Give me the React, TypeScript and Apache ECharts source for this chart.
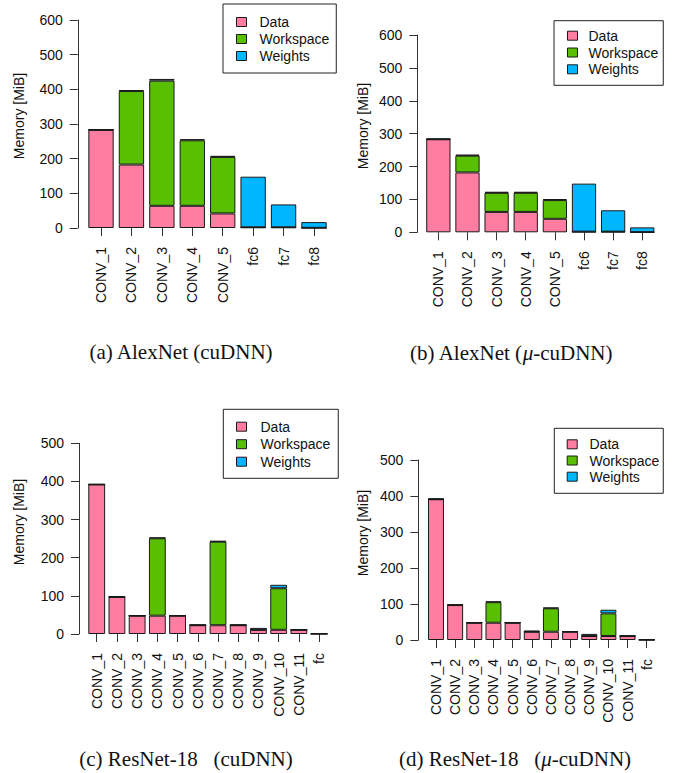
import React, { useEffect, useRef } from "react";
import * as echarts from "echarts";

// ---------- data ----------
const alexCategories = ["CONV_1", "CONV_2", "CONV_3", "CONV_4", "CONV_5", "fc6", "fc7", "fc8"];
const resCategories = ["CONV_1", "CONV_2", "CONV_3", "CONV_4", "CONV_5", "CONV_6", "CONV_7", "CONV_8", "CONV_9", "CONV_10", "CONV_11", "fc"];

// (a) AlexNet (cuDNN)
const alexCudnnData = [283, 183, 64, 64, 42, 2, 2, 0.5];
const alexCudnnWorkspace = [0, 212, 361, 189, 163, 0, 0, 0];
const alexCudnnWeights = [1.5, 3, 5, 3, 3, 146, 66, 16.5];

// (b) AlexNet (mu-cuDNN)
const alexMuData = [283, 182, 62, 62, 41, 2, 2, 0.5];
const alexMuWorkspace = [0, 51, 58, 58, 57, 0, 0, 0];
const alexMuWeights = [1.5, 3, 3, 3, 3, 146, 65, 14.5];

// (c) ResNet-18 (cuDNN)
const resCudnnData = [392, 97, 48, 48, 48, 23, 23, 23, 11, 11, 11, 0.5];
const resCudnnWorkspace = [0, 0, 0, 203, 0, 0, 219, 0, 0, 109, 0, 0];
const resCudnnWeights = [1, 2, 0.5, 2, 0.5, 2, 2, 2, 5, 9, 1, 1.5];

// (d) ResNet-18 (mu-cuDNN)
const resMuData = [391, 97, 48, 48, 48, 23, 23, 23, 11, 11, 11, 0.5];
const resMuWorkspace = [0, 0, 0, 57, 0, 0, 65, 0, 0, 63, 0, 0];
const resMuWeights = [2, 2, 0.5, 2, 0.5, 3, 2, 1, 6, 10, 1, 1.5];

const seriesNames = ["Data", "Workspace", "Weights"];
const yTitle = "Memory [MiB]";

// ---------- style ----------
const COLORS = ["#FF7DA0", "#58C000", "#00B7FF"];
const SANS = "Liberation Sans, Arial, Helvetica, sans-serif";
const SERIF = "Liberation Serif, Times New Roman, serif";
const INK = "#111";
const LINE = "#333";
const CAP_SIZE = 21;

type Panel = {
  cats: string[];
  values: number[][];
  ymax: number;
  grid: { left: number; top: number; width: number; height: number };
  yOffset: number;
  legend: { left: number; top: number; padding: number[]; itemGap: number; textPad: number };
  yTitlePos: [number, number];
  caption: { x: number; y: number; parts: [string, string, string] | [string] };
};

const panels: Panel[] = [
  {
    cats: alexCategories,
    values: [alexCudnnData, alexCudnnWorkspace, alexCudnnWeights],
    ymax: 600,
    grid: { left: 85.8, top: 20, width: 243.4, height: 208 },
    yOffset: 8,
    legend: { left: 223, top: 4, padding: [11, 7, 10, 13], itemGap: 3, textPad: 8 },
    yTitlePos: [19, 116],
    caption: { x: 181, y: 351.5, parts: ["(a) AlexNet (cuDNN)"] },
  },
  {
    cats: alexCategories,
    values: [alexMuData, alexMuWorkspace, alexMuWeights],
    ymax: 600,
    grid: { left: 423.8, top: 35, width: 233, height: 197.3 },
    yOffset: 6.5,
    legend: { left: 554, top: 20.7, padding: [8, 5, 9, 13], itemGap: 2.8, textPad: 6 },
    yTitlePos: [362.5, 126],
    caption: { x: 511, y: 352.5, parts: ["(b) AlexNet (", "μ", "-cuDNN)"] },
  },
  {
    cats: resCategories,
    values: [resCudnnData, resCudnnWorkspace, resCudnnWeights],
    ymax: 500,
    grid: { left: 86.6, top: 443.3, width: 242.6, height: 190.7 },
    yOffset: 7.6,
    legend: { left: 223.3, top: 409.3, padding: [10.4, 8, 9.6, 12.7], itemGap: 3.5, textPad: 9 },
    yTitlePos: [19, 522],
    caption: { x: 186, y: 759, parts: ["(c) ResNet-18   (cuDNN)"] },
  },
  {
    cats: resCategories,
    values: [resMuData, resMuWorkspace, resMuWeights],
    ymax: 500,
    grid: { left: 426.4, top: 460, width: 229.9, height: 180 },
    yOffset: 8,
    legend: { left: 554.3, top: 428.3, padding: [9, 4, 9.6, 12.4], itemGap: 2.2, textPad: 7.3 },
    yTitlePos: [362.5, 533],
    caption: { x: 515, y: 759, parts: ["(d) ResNet-18   (", "μ", "-cuDNN)"] },
  },
];

function buildOption() {
  const grid: any[] = [];
  const xAxis: any[] = [];
  const yAxis: any[] = [];
  const series: any[] = [];
  const legend: any[] = [];
  const graphic: any[] = [];

  panels.forEach((p, i) => {
    grid.push({ ...p.grid, containLabel: false });
    xAxis.push({
      type: "category",
      gridIndex: i,
      data: p.cats,
      boundaryGap: true,
      axisLine: { show: false },
      axisTick: { show: true, alignWithLabel: true, length: 8, lineStyle: { color: LINE, width: 1 } },
      axisLabel: { rotate: 90, margin: 19, interval: 0, fontSize: 14, fontFamily: SANS, color: INK },
      splitLine: { show: false },
    });
    yAxis.push({
      type: "value",
      gridIndex: i,
      min: 0,
      max: p.ymax,
      interval: 100,
      offset: p.yOffset,
      axisLine: { show: true, lineStyle: { color: LINE, width: 1 } },
      axisTick: { show: true, length: 8, lineStyle: { color: LINE, width: 1 } },
      axisLabel: { margin: 15, fontSize: 14, fontFamily: SANS, color: INK },
      splitLine: { show: false },
    });
    seriesNames.forEach((name, k) => {
      series.push({
        type: "bar",
        name,
        xAxisIndex: i,
        yAxisIndex: i,
        stack: "panel" + i,
        data: p.values[k],
        barCategoryGap: "16.7%",
        itemStyle: { color: COLORS[k], borderColor: "#1a1a1a", borderWidth: 1 },
        emphasis: { disabled: true },
      });
    });
    legend.push({
      orient: "vertical",
      left: p.legend.left,
      top: p.legend.top,
      padding: p.legend.padding,
      itemGap: p.legend.itemGap,
      itemWidth: 10,
      itemHeight: 9,
      icon: "rect",
      borderColor: "#222",
      borderWidth: 1,
      selectedMode: false,
      itemStyle: { borderColor: "#1a1a1a", borderWidth: 1 },
      textStyle: {
        fontSize: 14,
        fontFamily: SANS,
        color: INK,
        lineHeight: 14,
        padding: [0, 0, 0, p.legend.textPad],
      },
      data: seriesNames,
    });
    graphic.push({
      type: "text",
      x: p.yTitlePos[0],
      y: p.yTitlePos[1],
      rotation: Math.PI / 2,
      style: {
        text: yTitle,
        fontSize: 14,
        fontFamily: SANS,
        fill: INK,
        align: "center",
        verticalAlign: "middle",
        textAlign: "center",
        textVerticalAlign: "middle",
      },
    });
    const parts = p.caption.parts;
    const capText =
      parts.length === 3 ? `{n|${parts[0]}}{i|${parts[1]}}{n|${parts[2]}}` : `{n|${parts[0]}}`;
    graphic.push({
      type: "text",
      x: p.caption.x,
      y: p.caption.y,
      style: {
        text: capText,
        fill: INK,
        fontSize: CAP_SIZE,
        fontFamily: SERIF,
        align: "center",
        verticalAlign: "middle",
        textAlign: "center",
        textVerticalAlign: "middle",
        rich: {
          n: { fontSize: CAP_SIZE, fontFamily: SERIF, fill: INK, color: INK },
          i: { fontSize: CAP_SIZE, fontFamily: SERIF, fontStyle: "italic", fill: INK, color: INK },
        },
      },
    });
  });

  return {
    animation: false,
    backgroundColor: "#ffffff",
    grid,
    xAxis,
    yAxis,
    series,
    legend,
    graphic,
  };
}

export default function App() {
  const ref = useRef<HTMLDivElement | null>(null);
  useEffect(() => {
    if (!ref.current) return;
    const chart = echarts.init(ref.current, undefined, { renderer: "svg" });
    chart.setOption(buildOption() as any);
    return () => {
      chart.dispose();
    };
  }, []);
  return (
    <div
      ref={ref}
      style={{ position: "fixed", left: 0, top: 0, width: 683, height: 773, background: "#fff" }}
    />
  );
}
